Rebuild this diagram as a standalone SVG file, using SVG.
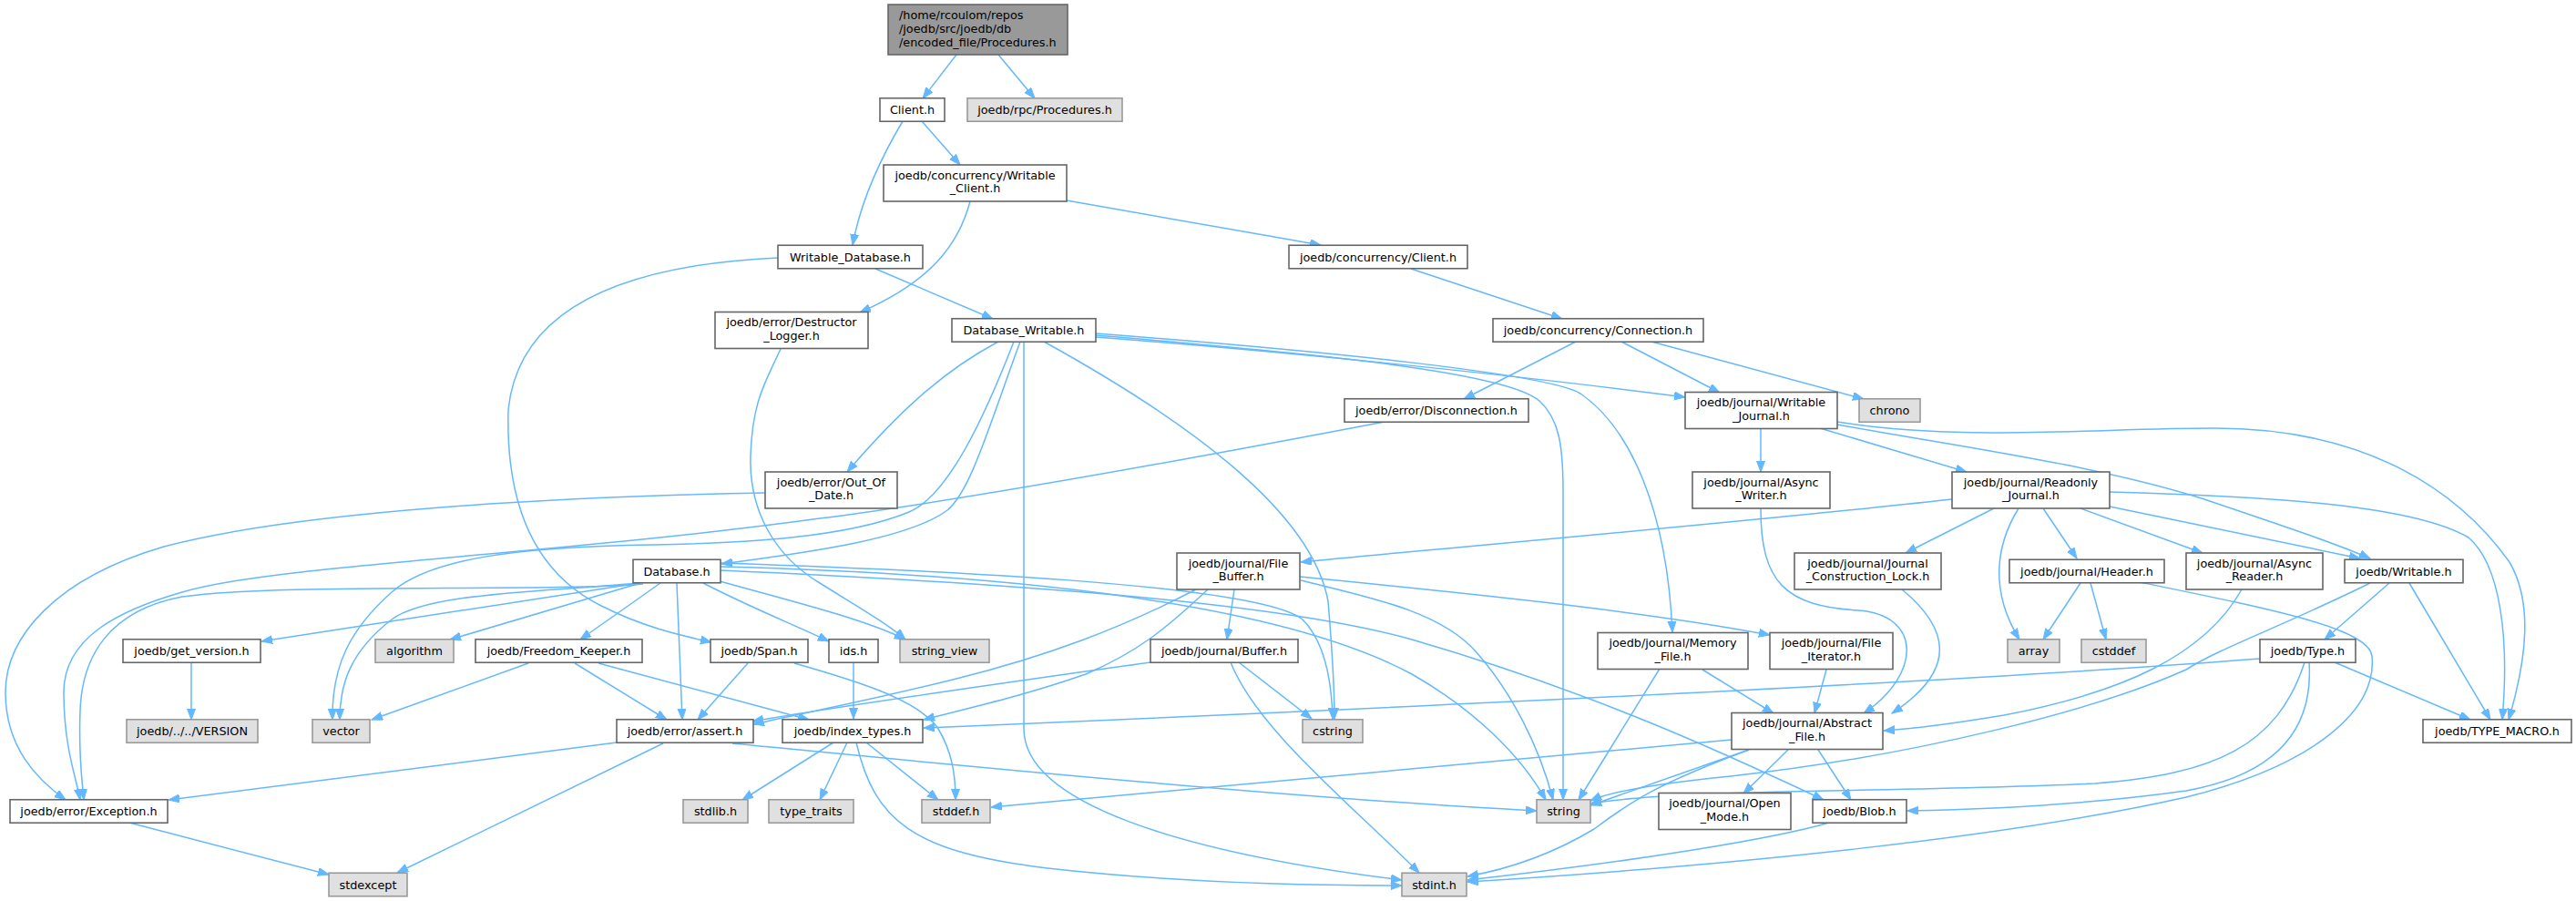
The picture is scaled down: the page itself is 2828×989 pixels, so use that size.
<svg xmlns="http://www.w3.org/2000/svg" width="2828" height="989" viewBox="0 0 2828 989">
<style>
.n{fill:#ffffff;stroke:#666666;stroke-width:1.6}
.g{fill:#e0e0e0;stroke:#999999;stroke-width:1.6}
.m{fill:#999999;stroke:#666666;stroke-width:1.6}
text{font-family:'DejaVu Sans',sans-serif;font-size:12.8px;fill:#000000;text-anchor:middle}
text.l{text-anchor:start}
.e path{fill:none;stroke:#63b8ff;stroke-width:1.5;marker-end:url(#a)}
</style>
<defs>
<marker id="a" markerUnits="userSpaceOnUse" markerWidth="13" markerHeight="10" refX="12" refY="4.5" orient="auto">
<path d="M0,0 L12,4.5 L0,9 z" fill="#63b8ff" stroke="#63b8ff" stroke-width="1"/>
</marker>
</defs>
<rect width="2828" height="989" fill="#ffffff"/>
<g id="edges" class="e">
<path d="M1050,60 L1013,108"/>
<path d="M1096,60 L1136,108"/>
<path d="M1012,133 L1054,181"/>
<path d="M991,133 C966,175 945,220 936,269"/>
<path d="M1171,220 L1450,269"/>
<path d="M1065,221 C1052,270 1020,310 944,343"/>
<path d="M961,295 L1090,350"/>
<path d="M854,283 C700,290 570,330 558,450 C555,560 590,630 660,665 C710,690 750,698 781,705"/>
<path d="M857,383 C840,420 826,440 824,500 C822,560 850,610 900,640 C940,665 975,685 994,702"/>
<path d="M1549,295 L1715,350"/>
<path d="M1730,375 L1607,438"/>
<path d="M1780,375 L1888,431"/>
<path d="M1813,375 Q1960,415 2046,438"/>
<path d="M1520,463 C1300,505 1050,550 900,569 C600,610 300,620 200,650 C130,670 70,700 70,760 C70,820 84,855 88,878"/>
<path d="M840,541 C620,545 330,560 180,600 C60,635 6,700 6,760 C6,820 40,855 72,878"/>
<path d="M1096,375 C1030,410 980,460 930,518"/>
<path d="M1120,375 C1085,470 1065,540 1040,560 C1000,590 900,605 792,619"/>
<path d="M1113,375 C1080,460 1040,545 998,562 C930,590 820,596 717,598 C560,600 470,615 430,650 C385,690 364,730 365,790"/>
<path d="M1124,375 L1124,800 C1124,880 1290,935 1539,966"/>
<path d="M1146,375 C1300,460 1440,560 1458,660 C1463,720 1465,760 1465,789"/>
<path d="M1203,370 C1400,385 1650,410 1850,436"/>
<path d="M1203,368 C1400,385 1650,405 1690,440 C1712,460 1716,490 1716,540 L1716,878"/>
<path d="M1203,366 C1450,385 1700,410 1735,432 C1790,470 1830,560 1836,694"/>
<path d="M1933,470 L1933,518"/>
<path d="M1998,470 L2159,518"/>
<path d="M2017,466 C2150,490 2300,510 2420,548 C2500,575 2560,595 2602,613"/>
<path d="M2017,463 C2150,485 2300,470 2431,470 C2600,470 2700,540 2755,617 C2780,660 2775,720 2754,790"/>
<path d="M2316,540 C2500,545 2650,555 2710,590 C2745,620 2755,700 2747,790"/>
<path d="M2143,548 C1900,575 1600,600 1428,617"/>
<path d="M2189,558 L2092,607"/>
<path d="M2216,558 C2190,600 2185,650 2217,702"/>
<path d="M2243,558 L2280,613"/>
<path d="M2284,558 L2418,607"/>
<path d="M2316,556 L2591,613"/>
<path d="M2284,640 L2243,702"/>
<path d="M2295,640 L2312,702"/>
<path d="M2349,639 C2500,670 2600,690 2604,720 C2610,780 2540,840 2400,875 C2200,920 1900,950 1611,968"/>
<path d="M1933,558 C1933,640 1960,665 2040,670 C2110,675 2110,740 2046,783"/>
<path d="M2088,647 C2140,690 2150,735 2077,783"/>
<path d="M2461,647 C2420,720 2330,760 2200,785 C2140,795 2100,800 2068,802"/>
<path d="M2623,640 L2552,702"/>
<path d="M2645,640 L2734,790"/>
<path d="M2602,640 C2500,690 2440,710 2400,735 C2300,780 2100,830 1900,852 C1820,860 1770,868 1746,879"/>
<path d="M2481,723 C2200,745 1700,770 1014,799"/>
<path d="M2530,727 C2500,820 2430,850 2300,860 C2100,870 1850,865 1746,882"/>
<path d="M2535,727 C2540,800 2500,850 2400,868 C2300,882 2200,888 2094,890"/>
<path d="M2563,727 L2712,790"/>
<path d="M702,640 L287,704"/>
<path d="M700,640 C600,650 470,650 430,680 C385,715 373,750 373,790"/>
<path d="M703,640 L494,702"/>
<path d="M725,640 L637,702"/>
<path d="M743,640 L749,790"/>
<path d="M772,640 C820,665 870,685 910,704"/>
<path d="M790,638 C870,660 950,680 994,702"/>
<path d="M791,618 C1000,625 1380,640 1430,680 C1455,705 1462,750 1463,789"/>
<path d="M791,622 C1100,630 1400,660 1550,740 C1620,780 1670,830 1697,878"/>
<path d="M791,626 C1100,640 1400,660 1550,702 C1750,760 1900,830 2002,878"/>
<path d="M706,641 C600,650 300,640 200,655 C120,670 90,720 88,780 C86,830 90,855 92,878"/>
<path d="M580,728 L408,790"/>
<path d="M631,728 L732,790"/>
<path d="M657,728 L888,790"/>
<path d="M821,728 L766,790"/>
<path d="M872,728 C950,750 1010,770 1030,800 C1045,825 1049,850 1049,878"/>
<path d="M937,727 L937,789"/>
<path d="M210,727 L210,790"/>
<path d="M677,815 L185,878"/>
<path d="M728,816 L436,958"/>
<path d="M804,816 C1000,835 1400,875 1687,890"/>
<path d="M142,903 L361,960"/>
<path d="M915,815 L815,878"/>
<path d="M930,815 L900,878"/>
<path d="M951,815 L1030,878"/>
<path d="M940,815 C960,900 1000,935 1150,953 C1300,970 1450,972 1539,972"/>
<path d="M1263,727 C1100,750 900,778 826,792"/>
<path d="M1360,727 L1440,789"/>
<path d="M1351,727 C1380,800 1480,880 1558,958"/>
<path d="M1355,647 L1347,702"/>
<path d="M1326,647 C1280,690 1250,715 1192,740 C1120,765 1060,778 1014,790"/>
<path d="M1313,647 C1230,690 1150,720 1050,745 C950,770 870,785 827,795"/>
<path d="M1428,637 C1500,655 1580,670 1620,715 C1660,760 1690,820 1705,878"/>
<path d="M1427,633 C1600,650 1800,670 1943,697"/>
<path d="M1822,734 L1733,878"/>
<path d="M1869,735 L1947,783"/>
<path d="M2005,735 L1992,783"/>
<path d="M1920,823 L1746,884"/>
<path d="M1920,823 C1820,860 1790,880 1750,910 C1700,940 1650,955 1611,962"/>
<path d="M1963,823 L1914,871"/>
<path d="M1996,823 L2032,878"/>
<path d="M1901,812 C1600,840 1300,865 1088,886"/>
<path d="M2008,903 C1950,920 1800,945 1611,966"/>
</g>
<g id="n0"><rect class="m" x="975" y="5" width="197" height="55"/><text class="l" x="987" y="21">/home/rcoulom/repos</text><text class="l" x="987" y="36">/joedb/src/joedb/db</text><text class="l" x="987" y="50.5">/encoded_file/Procedures.h</text></g>
<g id="n1"><rect class="n" x="966" y="107.75" width="71" height="25.5"/><text x="1001.5" y="125">Client.h</text></g>
<g id="n2"><rect class="g" x="1062" y="107.75" width="170" height="25.5"/><text x="1147" y="125">joedb/rpc/Procedures.h</text></g>
<g id="n3"><rect class="n" x="970" y="181" width="201" height="40"/><text x="1070.5" y="196.5">joedb/concurrency/Writable</text><text x="1070.5" y="211">_Client.h</text></g>
<g id="n4"><rect class="n" x="854" y="269.25" width="159" height="25.5"/><text x="933.5" y="286.5">Writable_Database.h</text></g>
<g id="n5"><rect class="n" x="1415" y="269.25" width="196" height="25.5"/><text x="1513" y="286.5">joedb/concurrency/Client.h</text></g>
<g id="n6"><rect class="n" x="785" y="342.5" width="168" height="40"/><text x="869" y="358">joedb/error/Destructor</text><text x="869" y="372.5">_Logger.h</text></g>
<g id="n7"><rect class="n" x="1045" y="349.75" width="158" height="25.5"/><text x="1124" y="367">Database_Writable.h</text></g>
<g id="n8"><rect class="n" x="1639" y="349.75" width="231" height="25.5"/><text x="1754.5" y="367">joedb/concurrency/Connection.h</text></g>
<g id="n9"><rect class="g" x="2041" y="437.75" width="67" height="25.5"/><text x="2074.5" y="455">chrono</text></g>
<g id="n10"><rect class="n" x="1476" y="437.75" width="202" height="25.5"/><text x="1577" y="455">joedb/error/Disconnection.h</text></g>
<g id="n11"><rect class="n" x="1850" y="430.5" width="167" height="40"/><text x="1933.5" y="446">joedb/journal/Writable</text><text x="1933.5" y="460.5">_Journal.h</text></g>
<g id="n12"><rect class="n" x="840" y="518" width="145" height="40"/><text x="912.5" y="533.5">joedb/error/Out_Of</text><text x="912.5" y="548">_Date.h</text></g>
<g id="n13"><rect class="n" x="1858" y="518" width="151" height="40"/><text x="1933.5" y="533.5">joedb/journal/Async</text><text x="1933.5" y="548">_Writer.h</text></g>
<g id="n14"><rect class="n" x="2143" y="518" width="173" height="40"/><text x="2229.5" y="533.5">joedb/journal/Readonly</text><text x="2229.5" y="548">_Journal.h</text></g>
<g id="n15"><rect class="n" x="1292" y="607" width="135" height="40"/><text x="1359.5" y="622.5">joedb/journal/File</text><text x="1359.5" y="637">_Buffer.h</text></g>
<g id="n16"><rect class="n" x="695" y="614.25" width="96" height="25.5"/><text x="743" y="631.5">Database.h</text></g>
<g id="n17"><rect class="n" x="1970" y="607" width="161" height="40"/><text x="2050.5" y="622.5">joedb/journal/Journal</text><text x="2050.5" y="637">_Construction_Lock.h</text></g>
<g id="n18"><rect class="n" x="2206" y="614.25" width="170" height="25.5"/><text x="2291" y="631.5">joedb/journal/Header.h</text></g>
<g id="n19"><rect class="n" x="2400" y="607" width="150" height="40"/><text x="2475" y="622.5">joedb/journal/Async</text><text x="2475" y="637">_Reader.h</text></g>
<g id="n20"><rect class="n" x="2574" y="614.25" width="130" height="25.5"/><text x="2639" y="631.5">joedb/Writable.h</text></g>
<g id="n21"><rect class="n" x="135" y="701.75" width="151" height="25.5"/><text x="210.5" y="719">joedb/get_version.h</text></g>
<g id="n22"><rect class="g" x="412" y="701.75" width="86" height="25.5"/><text x="455" y="719">algorithm</text></g>
<g id="n23"><rect class="n" x="522" y="701.75" width="183" height="25.5"/><text x="613.5" y="719">joedb/Freedom_Keeper.h</text></g>
<g id="n24"><rect class="n" x="780" y="701.75" width="107" height="25.5"/><text x="833.5" y="719">joedb/Span.h</text></g>
<g id="n25"><rect class="n" x="910" y="701.75" width="54" height="25.5"/><text x="937" y="719">ids.h</text></g>
<g id="n26"><rect class="g" x="988" y="701.75" width="98" height="25.5"/><text x="1037" y="719">string_view</text></g>
<g id="n27"><rect class="n" x="1263" y="701.75" width="162" height="25.5"/><text x="1344" y="719">joedb/journal/Buffer.h</text></g>
<g id="n28"><rect class="n" x="1754" y="694.5" width="165" height="40"/><text x="1836.5" y="710">joedb/journal/Memory</text><text x="1836.5" y="724.5">_File.h</text></g>
<g id="n29"><rect class="n" x="1943" y="694.5" width="135" height="40"/><text x="2010.5" y="710">joedb/journal/File</text><text x="2010.5" y="724.5">_Iterator.h</text></g>
<g id="n30"><rect class="g" x="2204" y="701.75" width="57" height="25.5"/><text x="2232.5" y="719">array</text></g>
<g id="n31"><rect class="g" x="2285" y="701.75" width="71" height="25.5"/><text x="2320.5" y="719">cstddef</text></g>
<g id="n32"><rect class="n" x="2481" y="701.75" width="105" height="25.5"/><text x="2533.5" y="719">joedb/Type.h</text></g>
<g id="n33"><rect class="g" x="139" y="789.75" width="144" height="25.5"/><text x="211" y="807">joedb/../../VERSION</text></g>
<g id="n34"><rect class="g" x="343" y="789.75" width="63" height="25.5"/><text x="374.5" y="807">vector</text></g>
<g id="n35"><rect class="n" x="677" y="789.75" width="150" height="25.5"/><text x="752" y="807">joedb/error/assert.h</text></g>
<g id="n36"><rect class="n" x="859" y="789.75" width="154" height="25.5"/><text x="936" y="807">joedb/index_types.h</text></g>
<g id="n37"><rect class="g" x="1430" y="789.75" width="66" height="25.5"/><text x="1463" y="807">cstring</text></g>
<g id="n38"><rect class="n" x="1901" y="782.5" width="166" height="40"/><text x="1984" y="798">joedb/journal/Abstract</text><text x="1984" y="812.5">_File.h</text></g>
<g id="n39"><rect class="n" x="2660" y="789.75" width="163" height="25.5"/><text x="2741.5" y="807">joedb/TYPE_MACRO.h</text></g>
<g id="n40"><rect class="n" x="11" y="877.75" width="173" height="25.5"/><text x="97.5" y="895">joedb/error/Exception.h</text></g>
<g id="n41"><rect class="g" x="750" y="877.75" width="71" height="25.5"/><text x="785.5" y="895">stdlib.h</text></g>
<g id="n42"><rect class="g" x="844" y="877.75" width="93" height="25.5"/><text x="890.5" y="895">type_traits</text></g>
<g id="n43"><rect class="g" x="1012" y="877.75" width="75" height="25.5"/><text x="1049.5" y="895">stddef.h</text></g>
<g id="n44"><rect class="g" x="1687" y="877.75" width="59" height="25.5"/><text x="1716.5" y="895">string</text></g>
<g id="n45"><rect class="n" x="1821" y="870.5" width="145" height="40"/><text x="1893.5" y="886">joedb/journal/Open</text><text x="1893.5" y="900.5">_Mode.h</text></g>
<g id="n46"><rect class="n" x="1990" y="877.75" width="103" height="25.5"/><text x="2041.5" y="895">joedb/Blob.h</text></g>
<g id="n47"><rect class="g" x="361" y="958.25" width="86" height="25.5"/><text x="404" y="975.5">stdexcept</text></g>
<g id="n48"><rect class="g" x="1539" y="958.25" width="71" height="25.5"/><text x="1574.5" y="975.5">stdint.h</text></g>
</svg>
